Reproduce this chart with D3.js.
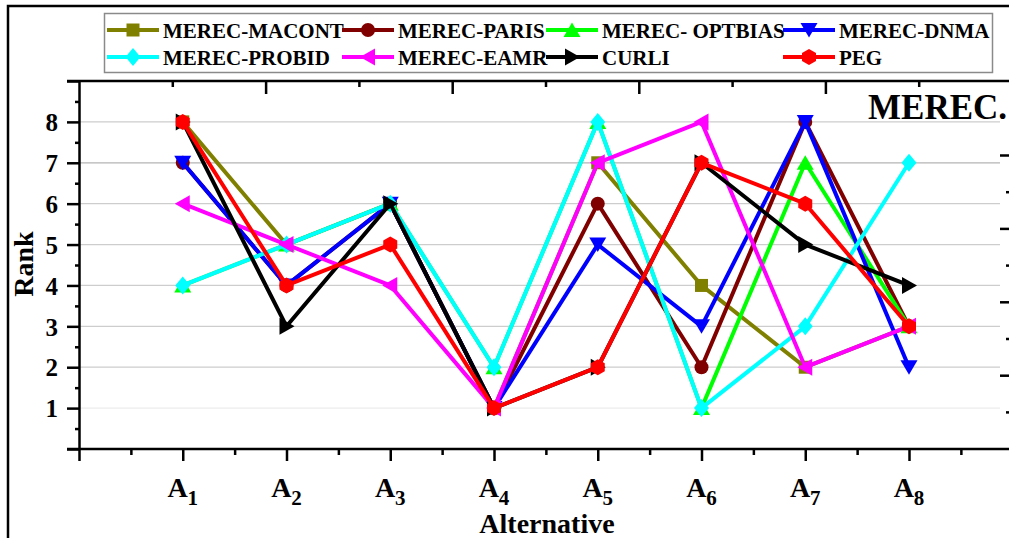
<!DOCTYPE html>
<html>
<head>
<meta charset="utf-8">
<script src="https://cdn.jsdelivr.net/npm/d3@7/dist/d3.min.js"></script>
<style>
  html, body { margin: 0; padding: 0; background: #fff; }
  svg { display: block; }
  text { font-family: "Liberation Serif", "Times New Roman", serif; font-weight: bold; fill: #000; }
</style>
</head>
<body>
<script>
// Alternatives A1..A8 (index used as x position)
const alternatives = [1, 2, 3, 4, 5, 6, 7, 8];
const rankTicks = [1, 2, 3, 4, 5, 6, 7, 8];

// Rank of each alternative per method
const macont  = [8, 5, 6, 1, 7, 4, 2, 3];
const paris   = [7, 4, 6, 1, 6, 2, 8, 3];
const optbias = [4, 5, 6, 2, 8, 1, 7, 3];
const dnma    = [7, 4, 6, 1, 5, 3, 8, 2];
const probid  = [4, 5, 6, 2, 8, 1, 3, 7];
const eamr    = [6, 5, 4, 1, 7, 8, 2, 3];
const curli   = [8, 3, 6, 1, 2, 7, 5, 4];
const peg     = [8, 4, 5, 1, 2, 7, 6, 3];

const seriesNames = ["MEREC-MACONT", "MEREC-PARIS", "MEREC- OPTBIAS", "MEREC-DNMA",
                     "MEREC-PROBID", "MEREC-EAMR", "CURLI", "PEG"];
const seriesValues = [macont, paris, optbias, dnma, probid, eamr, curli, peg];
const seriesColors = ["#808000", "#800000", "#00ff00", "#0000ff",
                      "#00ffff", "#ff00ff", "#000000", "#ff0000"];
const seriesShapes = ["square", "circle", "up", "down", "diamond", "left", "right", "hexagon"];

const W = 1009, H = 538;
const svg = d3.select("body").append("svg").attr("width", W).attr("height", H);

const x = d3.scaleLinear().domain([0, 9]).range([79, 1012.75]);
const y = d3.scaleLinear().domain([0, 9]).range([449, 81]);

// marker outlines centred on the point
const shapePaths = {
  square:  "M-6.5,-6.5H6.5V6.5H-6.5Z",
  circle:  "M7,0A7,7 0 1,1 -7,0A7,7 0 1,1 7,0Z",
  up:      "M0,-7.5L8.5,7L-8.5,7Z",
  down:    "M0,7.5L8.5,-7L-8.5,-7Z",
  left:    "M-8,0L7,-8.5L7,8.5Z",
  right:   "M8,0L-7,-8.5L-7,8.5Z",
  diamond: "M0,-9L7.5,0L0,9L-7.5,0Z",
  hexagon: "M0,-8L7,-4L7,4L0,8L-7,4L-7,-4Z"
};

// outer frame
svg.append("path").attr("d", "M8,538V6H1009").attr("fill", "none")
  .attr("stroke", "#000").attr("stroke-width", 2.5);

// horizontal grid
svg.append("g").selectAll("line").data(rankTicks).join("line")
  .attr("x1", x(0)).attr("x2", 1000)
  .attr("y1", d => y(d)).attr("y2", d => y(d))
  .attr("stroke", d => d === 1 ? "#ececec" : (d === 7 ? "#b4b4b4" : "#cdcdcd"))
  .attr("stroke-width", 1.2);

// axes
function styleAxis(g) {
  g.selectAll("path.domain").attr("stroke", "#000").attr("stroke-width", 2.5);
  g.selectAll(".tick line").attr("stroke", "#000").attr("stroke-width", 2.5);
}

const yMajor = svg.append("g").attr("transform", `translate(${x(0)},0)`)
  .call(d3.axisLeft(y).tickValues(d3.range(0, 10)).tickSize(12).tickSizeOuter(0)
    .tickFormat(d => rankTicks.includes(d) ? d : ""));
styleAxis(yMajor);
yMajor.selectAll(".tick text").attr("x", -21).attr("dy", "0.35em")
  .style("font-size", "25px");
const yMinor = svg.append("g").attr("transform", `translate(${x(0)},0)`)
  .call(d3.axisLeft(y).tickValues(d3.range(0.5, 9, 1)).tickSize(4).tickSizeOuter(0).tickFormat(""));
styleAxis(yMinor);
yMinor.select("path.domain").remove();

const xMajor = svg.append("g").attr("transform", `translate(0,${y(0)})`)
  .call(d3.axisBottom(x).tickValues(d3.range(0, 10)).tickSize(12).tickSizeOuter(0).tickFormat(""));
styleAxis(xMajor);
xMajor.select("path.domain").attr("d", `M${x(0) - 12},0H${W}`);
const xMinor = svg.append("g").attr("transform", `translate(0,${y(0)})`)
  .call(d3.axisBottom(x).tickValues(d3.range(0.5, 9, 1)).tickSize(6).tickSizeOuter(0).tickFormat(""));
styleAxis(xMinor);
xMinor.select("path.domain").remove();

// category labels A1..A8
const xl = svg.append("g").selectAll("text").data(alternatives).join("text")
  .attr("x", d => x(d)).attr("y", 497).attr("text-anchor", "middle")
  .style("font-size", "28px");
xl.append("tspan").text("A");
xl.append("tspan").attr("dy", 8).style("font-size", "21px").text(d => d);

// top frame with its own ticks
const xTop = d3.scaleLinear().domain([0, 5]).range([79, 1012]);
const topMajor = svg.append("g").attr("transform", `translate(0,${y(9)})`)
  .call(d3.axisBottom(xTop).tickValues(d3.range(1, 6)).tickSize(13).tickSizeOuter(0).tickFormat(""));
styleAxis(topMajor);
topMajor.select("path.domain").attr("d", `M${x(0) - 12},0H${W}`);
const topMinor = svg.append("g").attr("transform", `translate(0,${y(9)})`)
  .call(d3.axisBottom(xTop).tickValues(d3.range(0.5, 5, 1)).tickSize(6).tickSizeOuter(0).tickFormat(""));
styleAxis(topMinor);
topMinor.select("path.domain").remove();

// neighbouring panel's axis ticks at the right edge
const yR = d3.scaleLinear().domain([0, 5]).range([448.6, 81.6]);
const rMajor = svg.append("g").attr("transform", `translate(${W},0)`)
  .call(d3.axisLeft(yR).tickValues([1, 2, 3, 4]).tickSize(9).tickSizeOuter(0).tickFormat(""));
styleAxis(rMajor);
rMajor.select("path.domain").remove();
const rMinor = svg.append("g").attr("transform", `translate(${W},0)`)
  .call(d3.axisLeft(yR).tickValues([0.5, 1.5, 2.5, 3.5]).tickSize(3).tickSizeOuter(0).tickFormat(""));
styleAxis(rMinor);
rMinor.select("path.domain").remove();

svg.append("text").attr("x", 868).attr("y", 119).style("font-size", "35px").text("MEREC.");

// axis titles
svg.append("text").attr("transform", "translate(33,264) rotate(-90)")
  .attr("text-anchor", "middle").style("font-size", "28px").text("Rank");
svg.append("text").attr("x", 547).attr("y", 533)
  .attr("text-anchor", "middle").style("font-size", "28px").text("Alternative");

// series: line then markers, drawn in legend order
const line = d3.line().x((d, i) => x(alternatives[i])).y(d => y(d));
seriesValues.forEach((vals, s) => {
  const g = svg.append("g");
  g.append("path").datum(vals).attr("d", line).attr("fill", "none")
    .attr("stroke", seriesColors[s]).attr("stroke-width", 4).attr("stroke-linejoin", "round");
  g.selectAll("path.m").data(vals).join("path").attr("class", "m")
    .attr("d", shapePaths[seriesShapes[s]])
    .attr("transform", (d, i) => `translate(${x(alternatives[i])},${y(d)})`)
    .attr("fill", seriesColors[s]);
});

// legend
const legend = svg.append("g");
legend.append("rect").attr("x", 104.5).attr("y", 13.5).attr("width", 888).attr("height", 59)
  .attr("fill", "#fff").attr("stroke", "#8a8a8a").attr("stroke-width", 1.5);
const colX = [107, 342, 546, 783];
const rowY = [30, 57];
seriesNames.forEach((name, s) => {
  const cx = colX[s % 4], cy = rowY[Math.floor(s / 4)];
  const g = legend.append("g").attr("transform", `translate(${cx},${cy})`);
  g.append("line").attr("x1", 0).attr("x2", 52).attr("stroke", seriesColors[s]).attr("stroke-width", 4);
  g.append("path").attr("d", shapePaths[seriesShapes[s]]).attr("transform", "translate(26,0)")
    .attr("fill", seriesColors[s]);
  g.append("text").attr("x", 56).attr("y", 7.5).style("font-size", "21px").text(name);
});
</script>
</body>
</html>
